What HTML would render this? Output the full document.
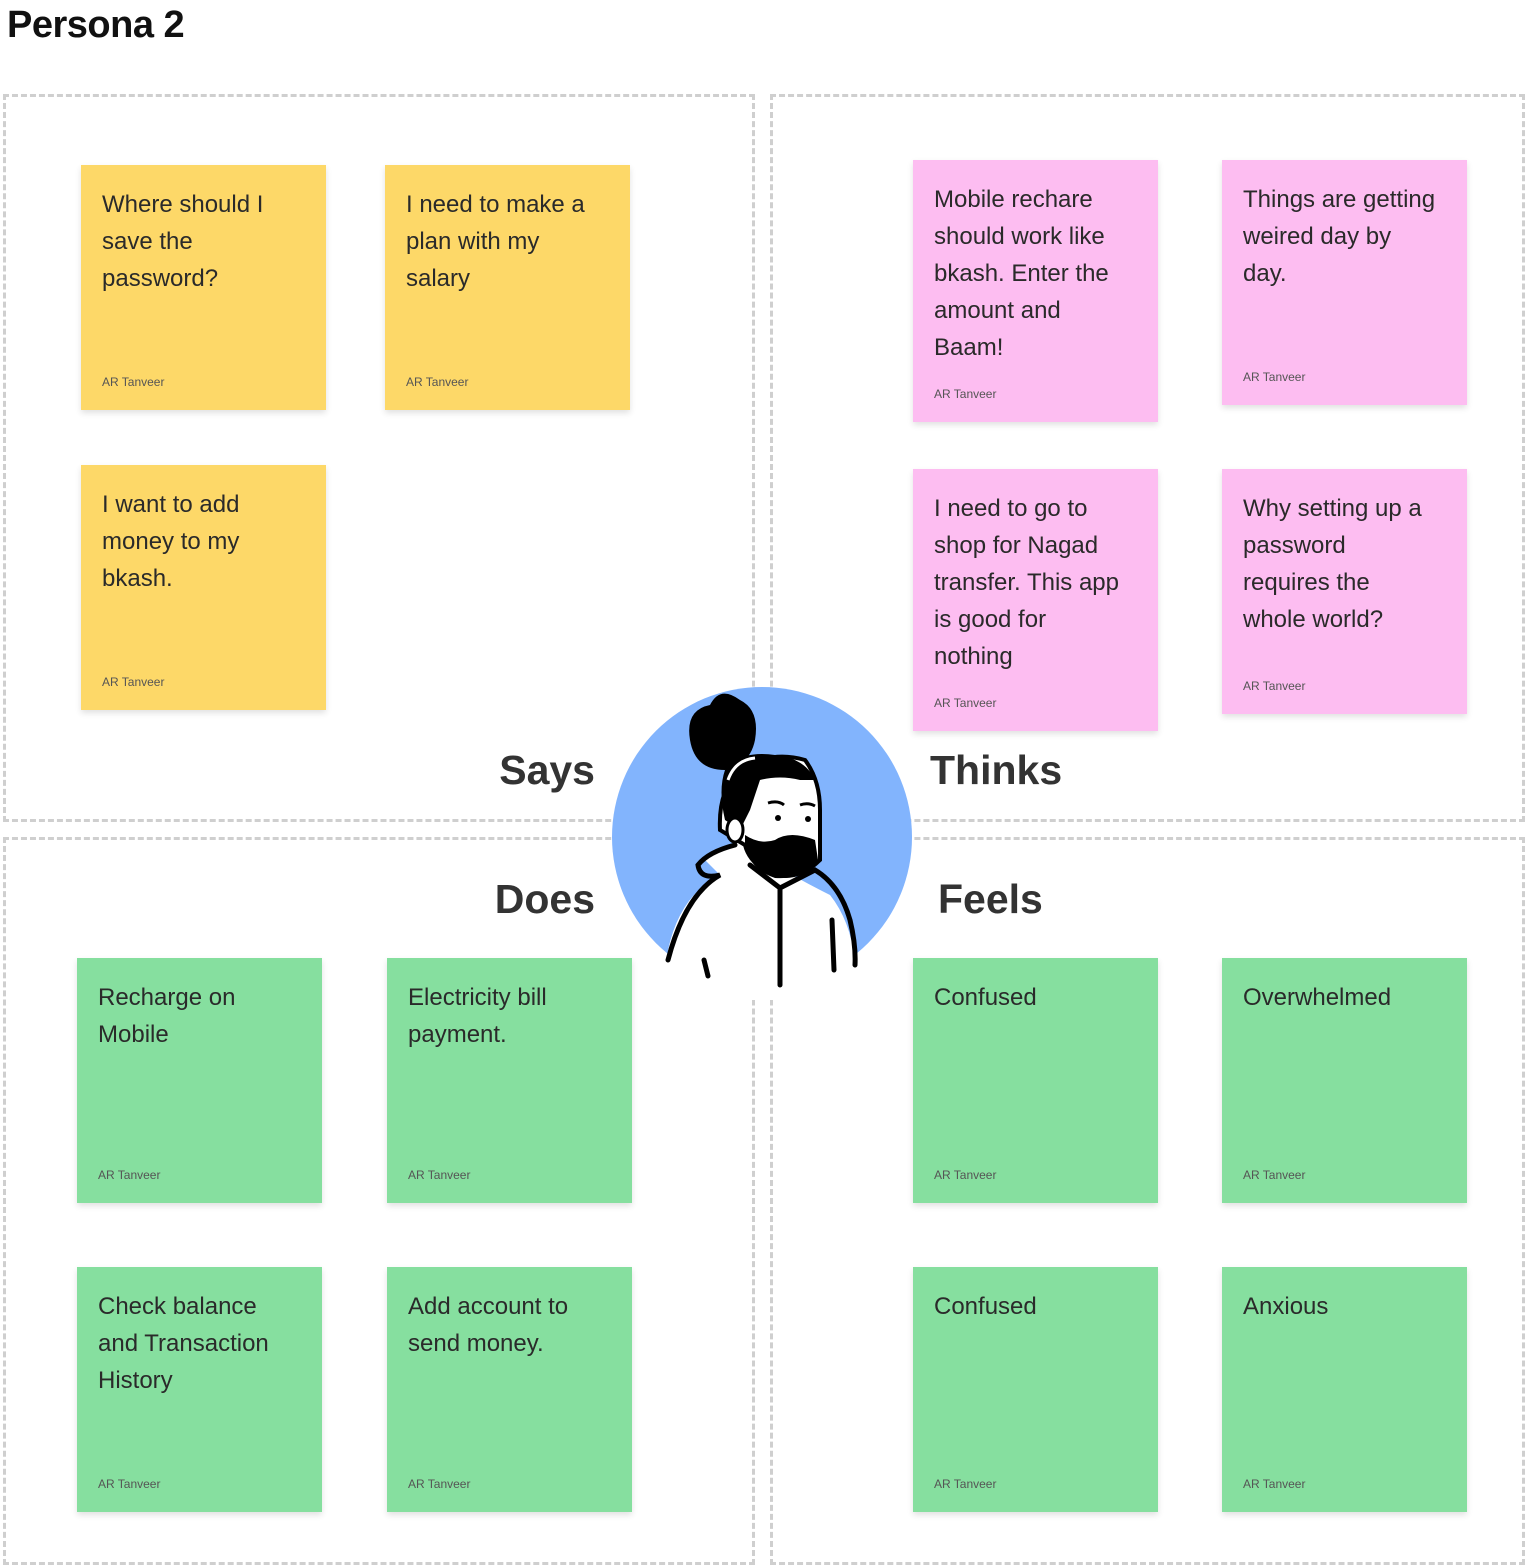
<!DOCTYPE html>
<html><head><meta charset="utf-8"><style>
*{margin:0;padding:0;box-sizing:border-box}
body{width:1526px;height:1566px;background:#fff;position:relative;overflow:hidden;font-family:"Liberation Sans",sans-serif}
.q{position:absolute;border:3px dashed #cfcfcf}
.s{position:absolute;width:245px;height:245px;box-shadow:0 3px 6px rgba(0,0,0,.12);color:#2a2a2a}
.s .t{position:absolute;left:21px;top:21px;width:194px;font-size:24px;line-height:37px}
.s .a{position:absolute;left:21px;bottom:21px;font-size:12px;color:#555}
.y{background:#fdd868}.p{background:#fdbdf1;height:262px}.g{background:#86df9f}
.p2{background:#fdbdf1}
.l{position:absolute;font-size:41px;font-weight:bold;color:#333;line-height:1}
h1{position:absolute;left:7px;top:4px;font-size:38px;font-weight:bold;color:#111;letter-spacing:-0.5px}
</style></head><body>
<h1>Persona 2</h1>
<div class="q" style="left:3px;top:94px;width:752px;height:728px"></div>
<div class="q" style="left:770px;top:94px;width:755px;height:728px"></div>
<div class="q" style="left:3px;top:837px;width:752px;height:728px"></div>
<div class="q" style="left:770px;top:837px;width:755px;height:728px"></div>

<div class="s y" style="left:81px;top:165px"><div class="t">Where should I save the password?</div><div class="a">AR Tanveer</div></div>
<div class="s y" style="left:385px;top:165px"><div class="t">I need to make a plan with my salary</div><div class="a">AR Tanveer</div></div>
<div class="s y" style="left:81px;top:465px"><div class="t">I want to add money to my bkash.</div><div class="a">AR Tanveer</div></div>

<div class="s p" style="left:913px;top:160px"><div class="t">Mobile rechare should work like bkash. Enter the amount and Baam!</div><div class="a">AR Tanveer</div></div>
<div class="s p2" style="left:1222px;top:160px"><div class="t">Things are getting weired day by day.</div><div class="a">AR Tanveer</div></div>
<div class="s p" style="left:913px;top:469px"><div class="t">I need to go to shop for Nagad transfer. This app is good for nothing</div><div class="a">AR Tanveer</div></div>
<div class="s p2" style="left:1222px;top:469px"><div class="t">Why setting up a password requires the whole world?</div><div class="a">AR Tanveer</div></div>

<div class="s g" style="left:77px;top:958px"><div class="t">Recharge on Mobile</div><div class="a">AR Tanveer</div></div>
<div class="s g" style="left:387px;top:958px"><div class="t">Electricity bill payment.</div><div class="a">AR Tanveer</div></div>
<div class="s g" style="left:77px;top:1267px"><div class="t">Check balance and Transaction History</div><div class="a">AR Tanveer</div></div>
<div class="s g" style="left:387px;top:1267px"><div class="t">Add account to send money.</div><div class="a">AR Tanveer</div></div>
<div class="s g" style="left:913px;top:958px"><div class="t">Confused</div><div class="a">AR Tanveer</div></div>
<div class="s g" style="left:1222px;top:958px"><div class="t">Overwhelmed</div><div class="a">AR Tanveer</div></div>
<div class="s g" style="left:913px;top:1267px"><div class="t">Confused</div><div class="a">AR Tanveer</div></div>
<div class="s g" style="left:1222px;top:1267px"><div class="t">Anxious</div><div class="a">AR Tanveer</div></div>

<div class="l" style="right:931px;top:750px">Says</div>
<div class="l" style="left:930px;top:750px">Thinks</div>
<div class="l" style="right:931px;top:879px">Does</div>
<div class="l" style="left:938px;top:879px">Feels</div>

<svg style="position:absolute;left:600px;top:680px" width="330" height="320" viewBox="0 0 330 320">
<circle cx="162" cy="157" r="150" fill="#82b4fd"/>
<path d="M68 320 L68 270 Q80 215 120 195 L105 180 Q110 170 135 165 L150 150 L175 185 Q200 200 230 215 Q250 240 255 280 L255 320 Z" fill="#fff"/>
<path d="M68 280 Q85 215 120 195 Q100 200 98 185 Q108 172 135 165 M150 185 L180 208 L215 190 Q240 205 250 240 Q256 265 255 285 M180 210 L180 305 M232 240 L234 290 M104 280 L108 296" stroke="#000" stroke-width="5" fill="none" stroke-linecap="round"/>
<path d="M120 150 Q118 110 140 90 Q170 70 205 80 Q220 100 220 130 L220 180 Q200 200 175 195 Q150 185 145 165 Z" fill="#fff" stroke="#000" stroke-width="4"/>
<path d="M145 155 Q160 165 175 160 Q190 150 215 160 L218 180 Q205 200 175 198 Q150 190 145 165 Z" fill="#000"/>
<path d="M90 60 Q85 30 110 25 Q120 5 140 20 Q160 30 155 60 Q150 85 125 90 Q95 90 90 60 Z" fill="#000"/>
<path d="M125 90 Q140 70 175 75 Q205 78 215 100 L200 100 Q180 95 160 100 L150 130 L140 150 L125 140 Q118 110 125 90 Z" fill="#000"/>
<circle cx="178" cy="138" r="3" fill="#000"/><circle cx="208" cy="139" r="3" fill="#000"/>
<path d="M168 123 Q178 120 184 125 M200 125 Q208 122 215 126" stroke="#000" stroke-width="3" fill="none"/>
<ellipse cx="135" cy="150" rx="8" ry="12" fill="#fff" stroke="#000" stroke-width="3"/>
<path d="M128 100 Q135 80 155 78" stroke="#fff" stroke-width="3" fill="none"/>
</svg>
</body></html>
